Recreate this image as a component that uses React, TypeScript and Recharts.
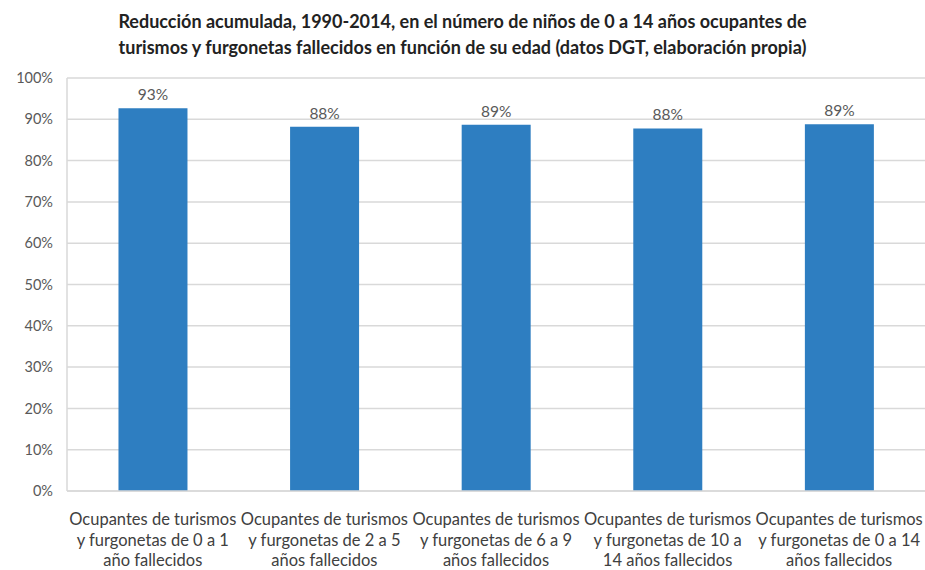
import React from 'react';
import { BarChart, Bar, XAxis, YAxis, CartesianGrid, LabelList } from 'recharts';

const categories = [
  ['Ocupantes de turismos', 'y furgonetas de 0 a 1', 'año fallecidos'],
  ['Ocupantes de turismos', 'y furgonetas de 2 a 5', 'años fallecidos'],
  ['Ocupantes de turismos', 'y furgonetas de 6 a 9', 'años fallecidos'],
  ['Ocupantes de turismos', 'y furgonetas de 10 a', '14 años fallecidos'],
  ['Ocupantes de turismos', 'y furgonetas de 0 a 14', 'años fallecidos'],
];
const reductions = [92.7, 88.2, 88.7, 87.8, 88.8];
const yTicks = [0, 10, 20, 30, 40, 50, 60, 70, 80, 90, 100];
const titleLines = [
  'Reducción acumulada, 1990-2014, en el número de niños de 0 a 14 años ocupantes de',
  'turismos y furgonetas fallecidos en función de su edad (datos DGT, elaboración propia)',
];

const data = categories.map((c, i) => ({ name: String(i), value: reductions[i] }));

const FONT = 'Lato, "Open Sans", sans-serif';

const CategoryTick = (props: any) => {
  const { x, y, payload } = props;
  const lines = categories[Number(payload.value)];
  return (
    <g transform={`translate(${x},${y})`}>
      {lines.map((l, i) => (
        <text key={i} x={0} y={26 + i * 20.5} textAnchor="middle" fontSize={16.5} fill="#404040" fontFamily={FONT}>
          {l}
        </text>
      ))}
    </g>
  );
};

const App: React.FC = () => {
  return (
    <div style={{ position: 'absolute', left: 0, top: 0, width: 925, height: 570, background: '#fff' }}>
      <div
        style={{
          position: 'absolute',
          left: 0,
          top: 8,
          width: 925,
          textAlign: 'center',
          fontFamily: FONT,
          fontWeight: 'bold',
          fontSize: 18,
          lineHeight: '26px',
          color: '#222',
        }}
      >
        {titleLines.map((t, i) => (
          <div key={i}>{t}</div>
        ))}
      </div>
      <BarChart
        width={925}
        height={570}
        data={data}
        margin={{ top: 78, right: 0, bottom: 0, left: 0 }}
        barCategoryGap="30%"
      >
        <CartesianGrid vertical={false} stroke="#d9d9d9" strokeWidth={1.5} />
        <YAxis
          width={67}
          domain={[0, 100]}
          ticks={yTicks}
          tickFormatter={(v: number) => `${v}%`}
          tickLine={false}
          axisLine={{ stroke: '#d9d9d9', strokeWidth: 1.5 }}
          tickMargin={8}
          tick={{ fontSize: 14.5, fill: '#595959', fontFamily: FONT }}
        />
        <XAxis
          dataKey="name"
          height={79}
          tickLine={false}
          axisLine={{ stroke: '#d9d9d9', strokeWidth: 1.5 }}
          tick={<CategoryTick />}
          interval={0}
        />
        <Bar dataKey="value" fill="#2E7EC1" isAnimationActive={false}>
          <LabelList
            dataKey="value"
            position="top"
            offset={8}
            formatter={(v: any) => `${Math.round(Number(v))}%`}
            style={{ fontSize: 15.5, fill: '#595959', fontFamily: FONT }}
          />
        </Bar>
      </BarChart>
    </div>
  );
};

export default App;
